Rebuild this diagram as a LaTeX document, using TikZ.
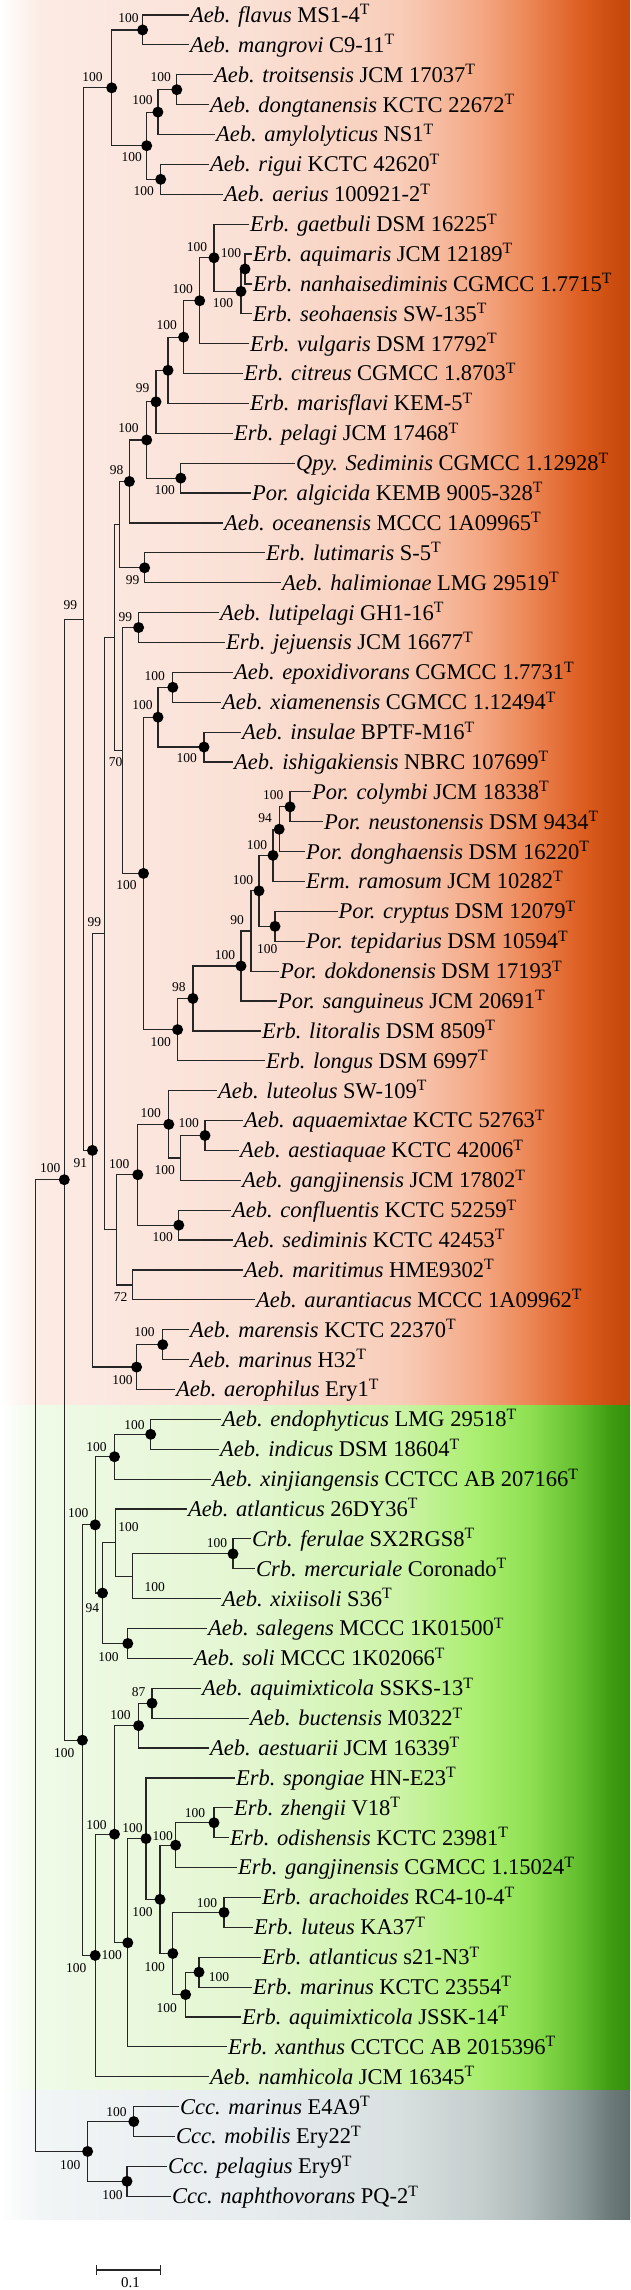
\documentclass[tikz,border=0pt]{standalone}
\usepackage{fontspec}
\setmainfont{Liberation Serif}
\definecolor{treeline}{HTML}{262626}
\definecolor{oZ}{HTML}{FEF7F4}
\definecolor{oA}{HTML}{FCEBE4}\definecolor{oB}{HTML}{FAE0D5}\definecolor{oC}{HTML}{F8CDB9}
\definecolor{oD}{HTML}{F4A884}\definecolor{oE}{HTML}{EC8656}\definecolor{oF}{HTML}{DD5F22}
\definecolor{oG}{HTML}{CC4E10}\definecolor{oH}{HTML}{C4470B}
\definecolor{gZ}{HTML}{F9FDF6}
\definecolor{gA}{HTML}{F0FAE8}\definecolor{gB}{HTML}{E3F6D0}\definecolor{gC}{HTML}{CDF3A8}
\definecolor{gD}{HTML}{A9EE6E}\definecolor{gE}{HTML}{8EE052}\definecolor{gF}{HTML}{62BD2D}
\definecolor{gG}{HTML}{3F9C12}\definecolor{gH}{HTML}{358F0C}
\definecolor{sZ}{HTML}{FAFBFB}
\definecolor{sA}{HTML}{F2F5F6}\definecolor{sB}{HTML}{E7ECEE}\definecolor{sC}{HTML}{D9E0E0}
\definecolor{sD}{HTML}{C4CECD}\definecolor{sE}{HTML}{AEBAB9}\definecolor{sF}{HTML}{8A9897}
\definecolor{sG}{HTML}{6C7B7A}\definecolor{sH}{HTML}{5E6D6C}
\pgfdeclarehorizontalshading{orangeband}{100bp}{color(0bp)=(white); color(25bp)=(white); color(26.2bp)=(oZ); color(28.2bp)=(oA); color(44.8bp)=(oB); color(56.7bp)=(oC); color(63.1bp)=(oD); color(67bp)=(oE); color(71bp)=(oF); color(73.4bp)=(oG); color(75bp)=(oH); color(100bp)=(oH)}
\pgfdeclarehorizontalshading{greenband}{100bp}{color(0bp)=(white); color(25bp)=(white); color(26.2bp)=(gZ); color(28.2bp)=(gA); color(44.8bp)=(gB); color(56.7bp)=(gC); color(63.1bp)=(gD); color(67bp)=(gE); color(71bp)=(gF); color(73.4bp)=(gG); color(75bp)=(gH); color(100bp)=(gH)}
\pgfdeclarehorizontalshading{grayband}{100bp}{color(0bp)=(white); color(25bp)=(white); color(26.2bp)=(sZ); color(28.2bp)=(sA); color(44.8bp)=(sB); color(56.7bp)=(sC); color(63.1bp)=(sD); color(67bp)=(sE); color(71bp)=(sF); color(73.4bp)=(sG); color(75bp)=(sH); color(100bp)=(sH)}
\tikzset{
  edge/.style={line width=1.2pt, draw=treeline},
  leaf/.style={anchor=base west, inner sep=1pt, font=\fontsize{22.5}{26}\selectfont},
  bs/.style={font=\fontsize{13.5}{15}\selectfont, inner sep=0pt},
  dotmark/.style={fill=black},
}
\newcommand{\leafnode}[4]{%
  \coordinate (t#1) at (#2,{ly(#1)});
  \node[leaf] (l#1) at ([yshift=-7.4pt]t#1) {\textit{#3} #4\textsuperscript{T}};
}
\begin{document}
\begin{tikzpicture}[x=1pt,y=-1pt, declare function={ly(\k)=15+(\k-1)*29.88;}]
\useasboundingbox (0,0) rectangle (630,2290);
\shade[shading=orangeband] (0,0) rectangle (630,1405);
\shade[shading=greenband] (0,1405) rectangle (630,2090);
\shade[shading=grayband] (0,2090) rectangle (630,2219);

% internal nodes
\coordinate (nfm) at (142.6,{ly(1.5)});
\coordinate (ntd) at (176.8,{ly(3.5)});
\coordinate (ntda) at (157.9,{ly(4.25)});
\coordinate (nra) at (160.7,{ly(6.5)});
\coordinate (nB) at (146.7,{ly(5.375)});
\coordinate (nA) at (111.7,{ly(3.4375)});
\coordinate (nan) at (245,{ly(9.5)});
\coordinate (nans) at (241,{ly(10.25)});
\coordinate (ng) at (214,{ly(9.125)});
\coordinate (ngv) at (199.7,{ly(10.5625)});
\coordinate (ngvc) at (183.6,{ly(11.78125)});
\coordinate (ngvcm) at (168,{ly(12.890625)});
\coordinate (n99a) at (156,{ly(13.9453)});
\coordinate (nqp) at (180.8,{ly(16.5)});
\coordinate (n100c) at (146.7,{ly(15.2227)});
\coordinate (n98a) at (129.4,{ly(16.6113)});
\coordinate (nlh) at (144.6,{ly(19.5)});
\coordinate (u1) at (119.7,{ly(18.0557)});
\coordinate (nlj) at (138.6,{ly(21.5)});
\coordinate (nepx) at (172.8,{ly(23.5)});
\coordinate (nins) at (204,{ly(25.5)});
\coordinate (nex) at (158,{ly(24.5)});
\coordinate (ncol) at (290,{ly(27.5)});
\coordinate (n94a) at (279.2,{ly(28.25)});
\coordinate (npd) at (273,{ly(29.125)});
\coordinate (nct) at (275,{ly(31.5)});
\coordinate (npdct) at (259,{ly(30.3125)});
\coordinate (n90) at (251,{ly(31.65625)});
\coordinate (nsan) at (241,{ly(32.828)});
\coordinate (n98b) at (192.9,{ly(33.914)});
\coordinate (nlon) at (177.6,{ly(34.957)});
\coordinate (nbig) at (143.5,{ly(29.7285)});
\coordinate (v70) at (122.5,{ly(25.614)});
\coordinate (u2) at (114.5,{ly(21.835)});
\coordinate (naa) at (205,{ly(38.5)});
\coordinate (n450) at (180.8,{ly(39.25)});
\coordinate (n420) at (168.8,{ly(38.125)});
\coordinate (ncs) at (178.8,{ly(41.5)});
\coordinate (n343) at (137.8,{ly(39.8125)});
\coordinate (n72) at (132.6,{ly(43.5)});
\coordinate (n290) at (116.5,{ly(41.656)});
\coordinate (q99) at (104.5,{ly(31.746)});
\coordinate (nmm) at (162.7,{ly(45.5)});
\coordinate (naer) at (136.6,{ly(46.25)});
\coordinate (n91) at (92.4,{ly(38.998)});
\coordinate (p99) at (83.2,{ly(21.218)});
\coordinate (nei) at (150.7,{ly(48.5)});
\coordinate (neix) at (114.5,{ly(49.25)});
\coordinate (ncrb) at (233,{ly(52.5)});
\coordinate (ny) at (132.6,{ly(53.25)});
\coordinate (nx) at (115.7,{ly(52.125)});
\coordinate (nss) at (127.8,{ly(55.5)});
\coordinate (n94g) at (102.5,{ly(53.8125)});
\coordinate (n1525) at (95.2,{ly(51.53)});
\coordinate (n87) at (152,{ly(57.5)});
\coordinate (naes) at (138.6,{ly(58.25)});
\coordinate (nzo) at (214,{ly(61.5)});
\coordinate (nzog) at (175.6,{ly(62.25)});
\coordinate (nal) at (224,{ly(64.5)});
\coordinate (natm) at (199,{ly(66.5)});
\coordinate (n462) at (185.6,{ly(67.25)});
\coordinate (n430) at (172.8,{ly(65.875)});
\coordinate (n398) at (160,{ly(64.0625)});
\coordinate (n144) at (146,{ly(62.03)});
\coordinate (n318) at (127.8,{ly(65.516)});
\coordinate (n285) at (114.5,{ly(61.883)});
\coordinate (n1956) at (95.2,{ly(65.94)});
\coordinate (ngr) at (82.4,{ly(58.737)});
\coordinate (n100) at (64.3,{ly(39.98)});
\coordinate (ncm) at (133.8,{ly(71.5)});
\coordinate (ncp) at (127,{ly(73.5)});
\coordinate (nccc) at (87.6,{ly(72.5)});
\coordinate (root) at (35.4,{ly(56.24)});

% leaves
\leafnode{1}{188.8}{Aeb. flavus}{MS1-4}
\leafnode{2}{188.8}{Aeb. mangrovi}{C9-11}
\leafnode{3}{213}{Aeb. troitsensis}{JCM 17037}
\leafnode{4}{209}{Aeb. dongtanensis}{KCTC 22672}
\leafnode{5}{215}{Aeb. amylolyticus}{NS1}
\leafnode{6}{209}{Aeb. rigui}{KCTC 42620}
\leafnode{7}{223}{Aeb. aerius}{100921-2}
\leafnode{8}{249}{Erb. gaetbuli}{DSM 16225}
\leafnode{9}{252}{Erb. aquimaris}{JCM 12189}
\leafnode{10}{252}{Erb. nanhaisediminis}{CGMCC 1.7715}
\leafnode{11}{252}{Erb. seohaensis}{SW-135}
\leafnode{12}{249}{Erb. vulgaris}{DSM 17792}
\leafnode{13}{243}{Erb. citreus}{CGMCC 1.8703}
\leafnode{14}{249}{Erb. marisflavi}{KEM-5}
\leafnode{15}{233}{Erb. pelagi}{JCM 17468}
\leafnode{16}{295}{Qpy. Sediminis}{CGMCC 1.12928}
\leafnode{17}{251}{Por. algicida}{KEMB 9005-328}
\leafnode{18}{223}{Aeb. oceanensis}{MCCC 1A09965}
\leafnode{19}{265}{Erb. lutimaris}{S-5}
\leafnode{20}{281}{Aeb. halimionae}{LMG 29519}
\leafnode{21}{219}{Aeb. lutipelagi}{GH1-16}
\leafnode{22}{225}{Erb. jejuensis}{JCM 16677}
\leafnode{23}{233}{Aeb. epoxidivorans}{CGMCC 1.7731}
\leafnode{24}{221}{Aeb. xiamenensis}{CGMCC 1.12494}
\leafnode{25}{241}{Aeb. insulae}{BPTF-M16}
\leafnode{26}{233}{Aeb. ishigakiensis}{NBRC 107699}
\leafnode{27}{311}{Por. colymbi}{JCM 18338}
\leafnode{28}{323}{Por. neustonensis}{DSM 9434}
\leafnode{29}{305}{Por. donghaensis}{DSM 16220}
\leafnode{30}{305}{Erm. ramosum}{JCM 10282}
\leafnode{31}{337.5}{Por. cryptus}{DSM 12079}
\leafnode{32}{305}{Por. tepidarius}{DSM 10594}
\leafnode{33}{279}{Por. dokdonensis}{DSM 17193}
\leafnode{34}{277}{Por. sanguineus}{JCM 20691}
\leafnode{35}{261}{Erb. litoralis}{DSM 8509}
\leafnode{36}{265}{Erb. longus}{DSM 6997}
\leafnode{37}{217}{Aeb. luteolus}{SW-109}
\leafnode{38}{243}{Aeb. aquaemixtae}{KCTC 52763}
\leafnode{39}{239}{Aeb. aestiaquae}{KCTC 42006}
\leafnode{40}{241}{Aeb. gangjinensis}{JCM 17802}
\leafnode{41}{231}{Aeb. confluentis}{KCTC 52259}
\leafnode{42}{233}{Aeb. sediminis}{KCTC 42453}
\leafnode{43}{243}{Aeb. maritimus}{HME9302}
\leafnode{44}{255}{Aeb. aurantiacus}{MCCC 1A09962}
\leafnode{45}{189}{Aeb. marensis}{KCTC 22370}
\leafnode{46}{189}{Aeb. marinus}{H32}
\leafnode{47}{174.8}{Aeb. aerophilus}{Ery1}
\leafnode{48}{221}{Aeb. endophyticus}{LMG 29518}
\leafnode{49}{219}{Aeb. indicus}{DSM 18604}
\leafnode{50}{211}{Aeb. xinjiangensis}{CCTCC AB 207166}
\leafnode{51}{186.8}{Aeb. atlanticus}{26DY36}
\leafnode{52}{251}{Crb. ferulae}{SX2RGS8}
\leafnode{53}{255}{Crb. mercuriale}{Coronado}
\leafnode{54}{221}{Aeb. xixiisoli}{S36}
\leafnode{55}{207}{Aeb. salegens}{MCCC 1K01500}
\leafnode{56}{193}{Aeb. soli}{MCCC 1K02066}
\leafnode{57}{201}{Aeb. aquimixticola}{SSKS-13}
\leafnode{58}{249}{Aeb. buctensis}{M0322}
\leafnode{59}{209}{Aeb. aestuarii}{JCM 16339}
\leafnode{60}{235}{Erb. spongiae}{HN-E23}
\leafnode{61}{233}{Erb. zhengii}{V18}
\leafnode{62}{229}{Erb. odishensis}{KCTC 23981}
\leafnode{63}{237}{Erb. gangjinensis}{CGMCC 1.15024}
\leafnode{64}{261}{Erb. arachoides}{RC4-10-4}
\leafnode{65}{253}{Erb. luteus}{KA37}
\leafnode{66}{261}{Erb. atlanticus}{s21-N3}
\leafnode{67}{252}{Erb. marinus}{KCTC 23554}
\leafnode{68}{241}{Erb. aquimixticola}{JSSK-14}
\leafnode{69}{227}{Erb. xanthus}{CCTCC AB 2015396}
\leafnode{70}{209}{Aeb. namhicola}{JCM 16345}
\leafnode{71}{179}{Ccc. marinus}{E4A9}
\leafnode{72}{175}{Ccc. mobilis}{Ery22}
\leafnode{73}{167}{Ccc. pelagius}{Ery9}
\leafnode{74}{171}{Ccc. naphthovorans}{PQ-2}

% edges
\foreach \p/\c in {nA/nfm,nA/nB,nfm/t1,nfm/t2,nB/ntda,nB/nra,ntda/ntd,ntda/t5,ntd/t3,ntd/t4,nra/t6,nra/t7,
 p99/nA,p99/n91,n91/q99,n91/naer,q99/u2,q99/n290,u2/u1,u2/v70,u1/n98a,u1/nlh,
 n98a/n100c,n98a/t18,n100c/n99a,n100c/nqp,n99a/ngvcm,n99a/t15,ngvcm/ngvc,ngvcm/t14,
 ngvc/ngv,ngvc/t13,ngv/ng,ngv/t12,ng/t8,ng/nans,nans/nan,nans/t11,nan/t9,nan/t10,
 nqp/t16,nqp/t17,nlh/t19,nlh/t20,v70/nlj,v70/nbig,nlj/t21,nlj/t22,nbig/nex,nbig/nlon,
 nex/nepx,nex/nins,nepx/t23,nepx/t24,nins/t25,nins/t26,nlon/n98b,nlon/t36,n98b/nsan,n98b/t35,
 nsan/n90,nsan/t34,n90/npdct,n90/t33,npdct/npd,npdct/nct,npd/n94a,npd/t30,n94a/ncol,n94a/t29,
 ncol/t27,ncol/t28,nct/t31,nct/t32,n290/n343,n290/n72,n343/n420,n343/ncs,n420/t37,n420/n450,
 n450/naa,n450/t40,naa/t38,naa/t39,ncs/t41,ncs/t42,n72/t43,n72/t44,naer/nmm,naer/t47,nmm/t45,nmm/t46,
 n100/p99,n100/ngr,ngr/n1525,ngr/n1956,n1525/neix,n1525/n94g,neix/nei,neix/t50,nei/t48,nei/t49,
 n94g/nx,n94g/nss,nx/t51,nx/ny,ny/ncrb,ny/t54,ncrb/t52,ncrb/t53,nss/t55,nss/t56,
 n1956/n285,n1956/t70,n285/naes,n285/n318,naes/n87,naes/t59,n87/t57,n87/t58,n318/n144,n318/t69,
 n144/t60,n144/n398,n398/nzog,n398/n430,nzog/nzo,nzog/t63,nzo/t61,nzo/t62,n430/nal,n430/n462,
 nal/t64,nal/t65,n462/natm,n462/t68,natm/t66,natm/t67,root/n100,root/nccc,nccc/ncm,nccc/ncp,
 ncm/t71,ncm/t72,ncp/t73,ncp/t74}
 \draw[edge] (\p) |- (\c);

% dots
\foreach \n in {nfm,ntd,ntda,nra,nB,nA,nan,nans,ng,ngv,ngvc,ngvcm,n99a,nqp,n100c,n98a,nlh,nlj,nepx,nins,nex,
 ncol,n94a,npd,nct,npdct,nsan,n98b,nlon,nbig,naa,n420,ncs,n343,nmm,naer,n91,n100,nei,neix,ncrb,nss,n94g,
 n1525,n87,naes,nzo,nzog,nal,natm,n462,n430,n398,n144,n318,n285,n1956,ngr,ncm,ncp,nccc}
 \fill[dotmark] (\n) circle (5.5pt);

% bootstrap labels
\foreach \i/\x/\y/\t in {1/128.6/18.3/100,2/92.4/76.7/100,3/160.7/77.3/100,4/142.6/100/100,5/131.8/156.7/100,
 6/143.8/190.7/100,7/196.9/246.7/100,8/231/253.3/100,9/182.8/289/100,10/223/303.3/100,11/166.7/325/100,
 12/142.6/388.3/99,13/128.6/428.3/100,14/116.5/470/98,15/164.7/490/100,16/132.6/580/99,17/70.3/605/99,
 18/125.4/616.7/99,19/154.7/676/100,20/142.6/705/100,21/186.8/758.3/100,22/115.5/762/70,23/273.2/795/100,
 24/265.2/818.3/94,25/257.1/845/100,26/126.6/885/100,27/243/880/100,28/94.4/921.7/99,29/237/920/90,
 30/267.2/949.3/100,31/225/955/100,32/178.8/986.7/98,33/160.7/1041.7/100,34/150.7/1113.3/100,
 35/188.8/1123.3/100,36/80.4/1163.3/91,37/50.2/1168.3/100,38/119.3/1164/100,39/164.7/1170/100,
 40/162.7/1237.3/100,41/120.5/1296.7/72,42/144.6/1332/100,43/122.5/1380/100,44/134.6/1425/100,
 45/96.4/1446.7/100,46/78.3/1513.3/100,47/128.6/1527.5/100,48/217/1543.3/100,49/154.7/1586.7/100,
 50/92.4/1608.3/94,51/108.5/1656.7/100,52/138.6/1691.7/87,53/120.5/1715/100,54/64.3/1753.3/100,
 55/194.9/1812.7/100,56/96.4/1825/100,57/132.6/1828.3/100,58/162.7/1836/100,59/207/1903.3/100,
 60/142.6/1911.7/100,61/111.7/1955/100,62/76.3/1968.3/100,63/154.7/1966.7/100,64/219/1977.3/100,
 65/166.7/2008.3/100,66/116.5/2111.7/100,67/70.3/2165/100,68/112.5/2195/100}
 \node[bs] (b\i) at (\x,\y) {\t};

% scale bar
\coordinate (sb1) at (96.4,2270);
\coordinate (sb2) at (160.7,2270);
\draw[edge] (sb1) -- (sb2);
\draw[edge] ([yshift=5pt]sb1) -- ([yshift=-5pt]sb1);
\draw[edge] ([yshift=5pt]sb2) -- ([yshift=-5pt]sb2);
\node[font=\fontsize{15}{16}\selectfont, inner sep=0pt] (sblabel) at (130.6,2283) {0.1};
\end{tikzpicture}
\end{document}
